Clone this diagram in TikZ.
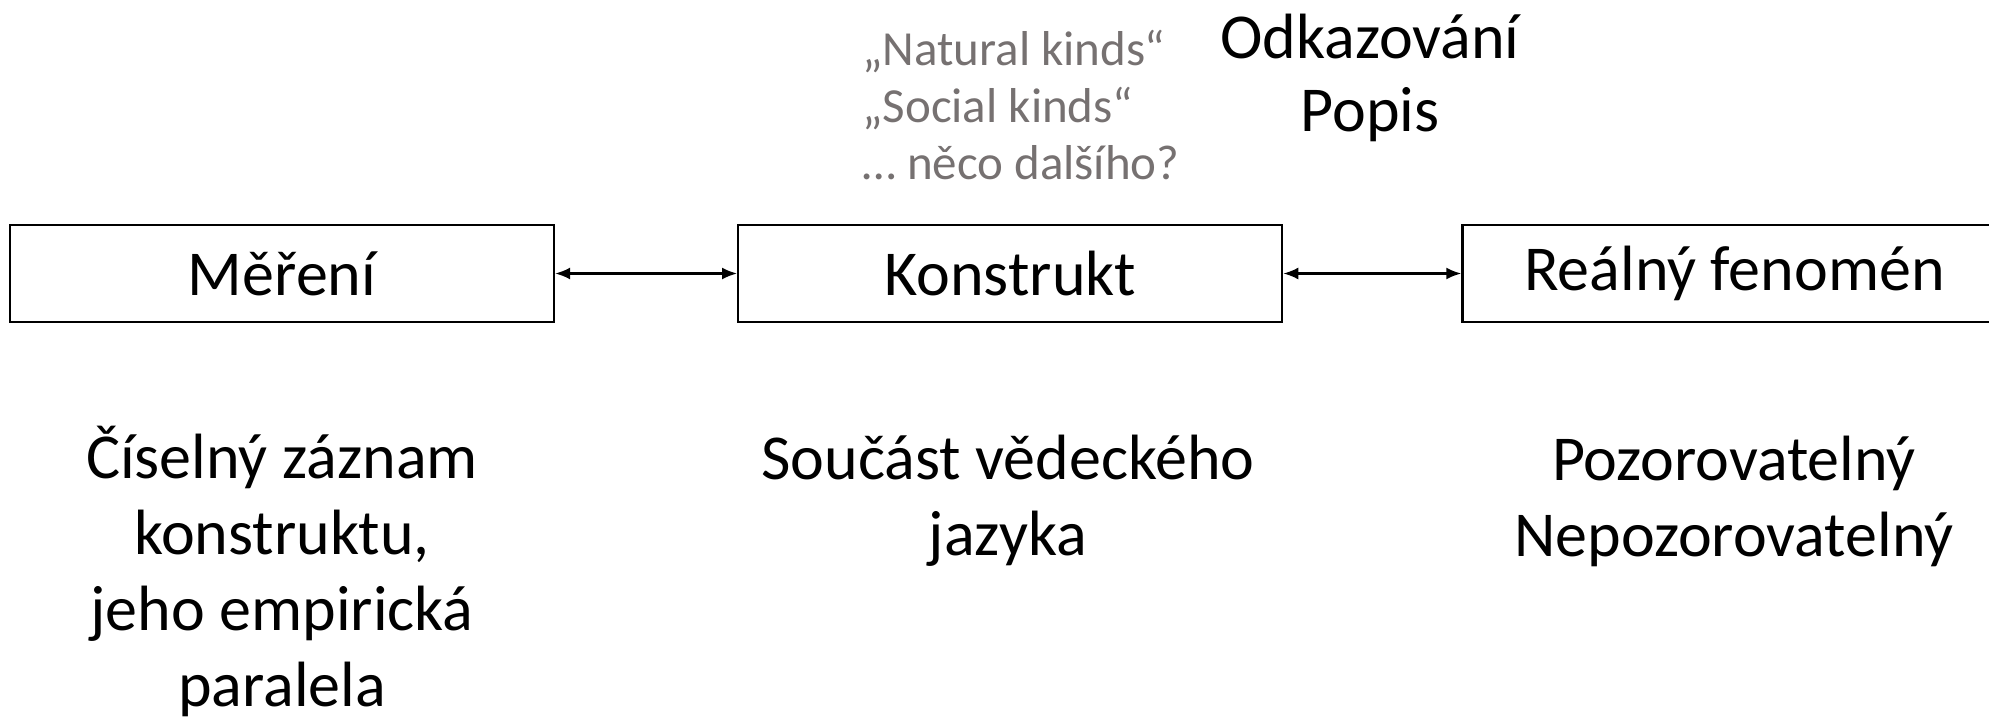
\documentclass[tikz,border=0pt]{standalone}
\usepackage{fontspec}
\setmainfont{Carlito}
\usetikzlibrary{positioning,arrows.meta}
\definecolor{notegray}{RGB}{118,113,113}

\begin{document}
\begin{tikzpicture}[x=1pt,y=-1pt,
    box/.style={draw, line width=2.2pt, minimum width=544pt, minimum height=97pt,
      inner sep=0pt, font=\fontsize{64}{77}\selectfont},
    desc/.style={align=center, inner sep=0pt, font=\fontsize{64}{76}\selectfont},
    note/.style={align=left, inner sep=0pt, text=notegray, font=\fontsize{49}{57}\selectfont},
    link/.style={{Latex[length=15pt,width=12pt]}-{Latex[length=15pt,width=12pt]}, line width=2.2pt}
    ]
    \useasboundingbox (0,0) rectangle (1989,720);
    \node[box] (meas) at (282,273.5) {Měření};
    \node[box, right=182pt of meas] (constr) {Konstrukt};
    \node[box, right=178pt of constr] (real) {Reálný fenomén};
    \draw[link] (meas) -- (constr);
    \draw[link] (constr) -- (real);
    \node[desc] (measdesc) at (282,571) {Číselný záznam\\konstruktu,\\jeho empirická\\paralela};
    \node[desc] (constrdesc) at (1008,501) {Součást vědeckého\\jazyka};
    \node[desc] (realdesc) at (1734,501) {Pozorovatelný\\Nepozorovatelný};
    \node[note, anchor=west] (kinds) at (862,105) {„Natural kinds“\\„Social kinds“\\… něco dalšího?};
    \node[desc, font=\fontsize{64}{73}\selectfont] (refer) at (1370,77.5) {Odkazování\\Popis};
  \end{tikzpicture}
\end{document}
